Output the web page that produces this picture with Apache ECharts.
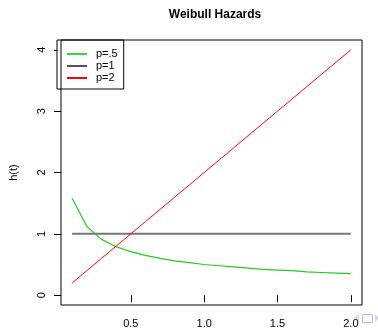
<!DOCTYPE html>
<html>
<head>
<meta charset="utf-8">
<script src="https://cdn.jsdelivr.net/npm/echarts@6/dist/echarts.min.js"></script>
<style>
  html, body { margin: 0; padding: 0; background: #fff; }
  #main { width: 378px; height: 329px; }
</style>
</head>
<body>
<div id="main"></div>
<script>
// time points
const tVals = [0.1, 0.2, 0.3, 0.4, 0.5, 0.6, 0.7, 0.8, 0.9, 1.0,
               1.1, 1.2, 1.3, 1.4, 1.5, 1.6, 1.7, 1.8, 1.9, 2.0];
// hazards
const hHalf = [1.58, 1.12, 0.91, 0.79, 0.71, 0.65, 0.60, 0.56, 0.53, 0.50,
               0.48, 0.46, 0.44, 0.42, 0.41, 0.40, 0.38, 0.37, 0.36, 0.35];
const hOne = [1, 1, 1, 1, 1, 1, 1, 1, 1, 1,
              1, 1, 1, 1, 1, 1, 1, 1, 1, 1];
const hTwo = [0.2, 0.4, 0.6, 0.8, 1.0, 1.2, 1.4, 1.6, 1.8, 2.0,
              2.2, 2.4, 2.6, 2.8, 3.0, 3.2, 3.4, 3.6, 3.8, 4.0];
const seriesNames = ["p=.5", "p=1", "p=2"];
const xTicks = [0.5, 1.0, 1.5, 2.0];
const yTicks = [0, 1, 2, 3, 4];

const font = "Liberation Sans, Arial, sans-serif";

function pairs(ys) {
  return tVals.map((t, i) => [t, ys[i]]);
}

const chart = echarts.init(document.getElementById("main"));

const option = {
  animation: false,
  title: {
    text: "Weibull Hazards",
    left: 210,
    textAlign: "center",
    top: 4,
    textStyle: { fontFamily: font, fontSize: 12, fontWeight: "bold", color: "#000" }
  },
  legend: {
    orient: "vertical",
    left: 57,
    top: 40,
    backgroundColor: "#fff",
    borderColor: "#000",
    borderWidth: 1,
    borderRadius: 0,
    padding: [8, 6, 5, 10],
    itemGap: 0,
    itemWidth: 20,
    itemHeight: 2,
    icon: "rect",
    data: seriesNames,
    textStyle: { fontFamily: font, fontSize: 11, color: "#000", lineHeight: 12, padding: [0, 0, 0, 4] }
  },
  grid: {
    left: 57,
    right: 16,
    top: 40,
    bottom: 22,
    show: true,
    borderColor: "#000",
    borderWidth: 1,
    z: 10
  },
  xAxis: {
    type: "value",
    min: 0.024,
    max: 2.076,
    splitLine: { show: false },
    axisLine: { show: false },
    axisTick: { show: true, length: 7, customValues: xTicks, lineStyle: { color: "#000" } },
    axisLabel: {
      customValues: xTicks,
      margin: 13,
      fontFamily: font,
      fontSize: 11,
      color: "#000",
      formatter: v => v.toFixed(1)
    }
  },
  yAxis: {
    type: "value",
    min: -0.16,
    max: 4.16,
    name: "h(t)",
    nameLocation: "middle",
    nameGap: 42,
    nameRotate: 90,
    nameTextStyle: { fontFamily: font, fontSize: 11, color: "#000" },
    splitLine: { show: false },
    axisLine: { show: false },
    axisTick: { show: true, length: 7, customValues: yTicks, lineStyle: { color: "#000" } },
    axisLabel: {
      customValues: yTicks,
      rotate: 90,
      margin: 14,
      fontFamily: font,
      fontSize: 11,
      color: "#000"
    }
  },
  series: [
    {
      name: seriesNames[0],
      type: "line",
      data: pairs(hHalf),
      symbol: "none",
      color: "#3ad83a",
      lineStyle: { width: 1.2, color: "#1fcc1f" }
    },
    {
      name: seriesNames[1],
      type: "line",
      data: pairs(hOne),
      symbol: "none",
      color: "#555",
      lineStyle: { width: 2, color: "#777" }
    },
    {
      name: seriesNames[2],
      type: "line",
      data: pairs(hTwo),
      symbol: "none",
      color: "#ff0000",
      lineStyle: { width: 1, color: "#ff0000" }
    }
  ],
  // slide navigation marks at the lower right corner
  graphic: [
    { type: "polygon", shape: { points: [[354, 318], [359, 314], [359, 322]] }, style: { fill: "#d4d4ee" } },
    { type: "rect", shape: { x: 362.5, y: 314.5, width: 10, height: 8 }, style: { fill: "none", stroke: "#b8b8e6", lineWidth: 1 } },
    { type: "polygon", shape: { points: [[375, 314], [379, 318], [375, 322]] }, style: { fill: "#d4d4ee" } }
  ]
};

chart.setOption(option);
</script>
</body>
</html>
